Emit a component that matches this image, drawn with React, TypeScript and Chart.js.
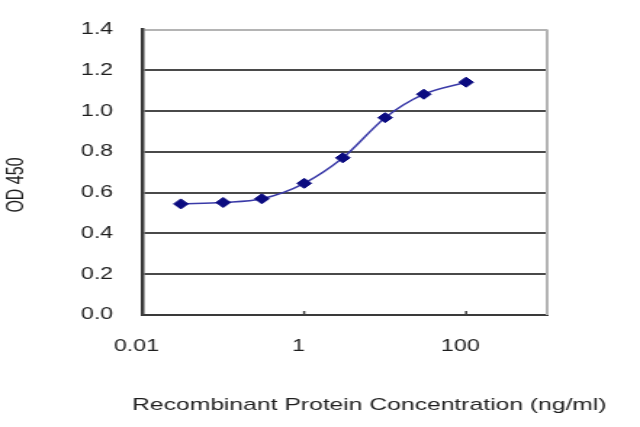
import React, { useEffect, useRef } from "react";
import { Chart, registerables } from "chart.js";

Chart.register(...registerables);

// ---- data ----
const concentrations = [0.03, 0.1, 0.3, 1, 3, 10, 30, 100];
const odValues = [0.545, 0.552, 0.57, 0.646, 0.771, 0.968, 1.083, 1.142];
const xTickValues = [0.01, 1, 100];
const yTickValues = [0, 0.2, 0.4, 0.6, 0.8, 1.0, 1.2, 1.4];
const xTitle = "Recombinant Protein Concentration (ng/ml)";
const yTitle = "OD 450";

// the reference is horizontally stretched: draw narrow, display wide
const DISPLAY_W = 640;
const H = 427;
const LOGICAL_W = 441;

const FONT = "'Liberation Sans', Arial, sans-serif";
const TEXT = "#1e1e1e";

const framePlugin = {
  id: "frame",
  beforeDatasetsDraw(chart: any) {
    const { ctx, chartArea: a, scales } = chart;
    ctx.save();
    ctx.strokeStyle = "#b4b4b4";
    ctx.lineWidth = 2;
    ctx.beginPath();
    ctx.moveTo(a.right, a.top);
    ctx.lineTo(a.right, a.bottom);
    ctx.stroke();
    ctx.strokeStyle = "#404040";
    ctx.lineWidth = 1.5;
    ctx.beginPath();
    for (const v of xTickValues) {
      const x = scales.x.getPixelForValue(v);
      ctx.moveTo(x, a.bottom);
      ctx.lineTo(x, a.bottom - 4);
    }
    ctx.stroke();
    ctx.restore();
  },
  afterDraw(chart: any) {
    const { ctx, chartArea: a } = chart;
    ctx.save();
    ctx.fillStyle = TEXT;
    ctx.textAlign = "center";
    ctx.textBaseline = "middle";
    ctx.font = `17px ${FONT}`;
    ctx.fillText(xTitle, (a.left + a.right) / 2 + 17, 405);
    ctx.font = `16px ${FONT}`;
    ctx.translate(12, 185);
    ctx.rotate(-Math.PI / 2);
    ctx.fillText(yTitle, 0, 0);
    ctx.restore();
  },
};

export default function App() {
  const ref = useRef<HTMLCanvasElement | null>(null);

  useEffect(() => {
    if (!ref.current) return;
    const chart = new Chart(ref.current, {
      type: "line",
      data: {
        datasets: [
          {
            data: concentrations.map((x, i) => ({ x, y: odValues[i] })),
            borderColor: "#3a3aa8",
            borderWidth: 1.5,
            backgroundColor: "#0b0b80",
            pointBackgroundColor: "#0b0b80",
            pointBorderColor: "#0b0b80",
            pointStyle: "rectRot",
            pointRadius: 5,
            pointBorderWidth: 1,
            cubicInterpolationMode: "monotone",
            fill: false,
          },
        ],
      },
      options: {
        responsive: false,
        animation: false,
        devicePixelRatio: 1,
        layout: { padding: { left: 0, right: 64, top: 26, bottom: 0 } },
        plugins: {
          legend: { display: false },
          tooltip: { enabled: false },
          title: { display: false },
        },
        scales: {
          x: {
            type: "logarithmic",
            min: 0.01,
            max: 1000,
            afterBuildTicks: (scale: any) => {
              scale.ticks = xTickValues.map((v) => ({ value: v }));
            },
            afterFit: (scale: any) => {
              scale.height = 112;
            },
            ticks: {
              autoSkip: false,
              maxRotation: 0,
              padding: 22,
              labelOffset: -4,
              color: TEXT,
              font: { family: FONT, size: 16 },
              callback: (v: any) => String(v),
            },
            grid: { drawOnChartArea: false, drawTicks: false },
            border: { color: "#3a3a3a", width: 2 },
          },
          y: {
            min: 0,
            max: 1.4,
            afterBuildTicks: (scale: any) => {
              scale.ticks = yTickValues.map((v) => ({ value: v }));
            },
            afterFit: (scale: any) => {
              scale.width = 98;
            },
            ticks: {
              padding: 20,
              color: TEXT,
              font: { family: FONT, size: 16 },
              callback: (v: any) => Number(v).toFixed(1),
            },
            grid: {
              drawTicks: false,
              lineWidth: 2,
              color: (c: any) =>
                c.tick && c.tick.value === 0
                  ? "rgba(0,0,0,0)"
                  : c.tick && Math.abs(c.tick.value - 1.4) < 1e-6
                  ? "#b4b4b4"
                  : "#4a4a4a",
            },
            border: { color: "#3a3a3a", width: 2.5 },
          },
        },
      },
      plugins: [framePlugin],
    } as any);
    return () => chart.destroy();
  }, []);

  return (
    <div
      style={{
        position: "absolute",
        left: 0,
        top: 0,
        width: DISPLAY_W,
        height: H,
        background: "#ffffff",
      }}
    >
      <canvas
        ref={ref}
        width={LOGICAL_W}
        height={H}
        style={{ width: `${DISPLAY_W}px`, height: `${H}px`, display: "block" }}
      />
    </div>
  );
}
